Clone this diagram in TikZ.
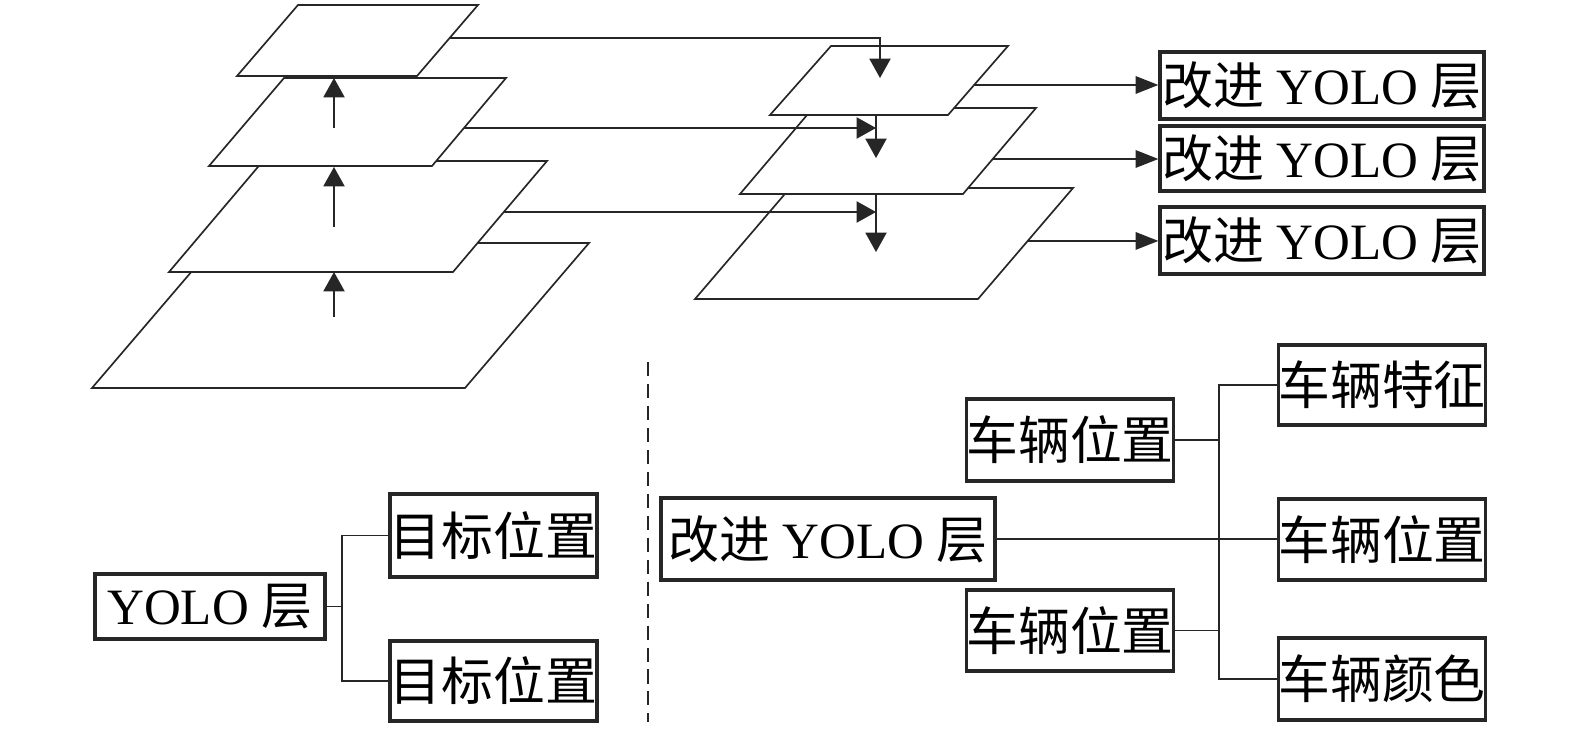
\documentclass[tikz,border=0pt]{standalone}
\usepackage{fontspec}
\setmainfont{Liberation Serif}
\newfontfamily\cjk{Noto Sans CJK SC}
\usetikzlibrary{arrows.meta,calc}
\begin{document}
\begin{tikzpicture}[x=0.02cm,y=-0.02cm,
  lay/.style={draw=black!85, line width=0.95pt, fill=white, line join=miter},
  box/.style={draw=black!85, line width=1.9pt, fill=white, inner sep=0pt, font=\fontsize{29}{31}\selectfont},
  cbox/.style={box, font=\fontsize{29.5}{31}\selectfont\cjk},
  conn/.style={draw=black!85, line width=0.95pt},
  uparr/.style={conn, -{Triangle[length=11pt,width=12pt]}},
  outarr/.style={conn, -{Triangle[length=13pt,width=10pt]}},
  dashline/.style={draw=black!85, line width=1.6pt, dash pattern=on 8pt off 4.5pt}]
\useasboundingbox (0,0) rectangle (1575,730);

% ---------- left stack ----------
\coordinate (P1tl) at (298,5);   \coordinate (P1tr) at (478,5);   \coordinate (P1br) at (417,76);  \coordinate (P1bl) at (237,76);
\coordinate (P2tl) at (284,78);  \coordinate (P2tr) at (506,78);  \coordinate (P2br) at (432,166); \coordinate (P2bl) at (209,166);
\coordinate (P3tl) at (263,161); \coordinate (P3tr) at (547,161); \coordinate (P3br) at (453,272); \coordinate (P3bl) at (169,272);
\coordinate (P4tl) at (216,243); \coordinate (P4tr) at (589,243); \coordinate (P4br) at (465,388); \coordinate (P4bl) at (92,388);
\draw[lay] (P4tl) -- (P4tr) -- (P4br) -- (P4bl) -- cycle;
\draw[lay] (P3tl) -- (P3tr) -- (P3br) -- (P3bl) -- cycle;
\draw[lay] (P2tl) -- (P2tr) -- (P2br) -- (P2bl) -- cycle;
\draw[lay] (P1tl) -- (P1tr) -- (P1br) -- (P1bl) -- cycle;

% up arrows
\coordinate (a1s) at (334,317); \coordinate (a1e) at (334,272);
\coordinate (a2s) at (334,227); \coordinate (a2e) at (334,167);
\coordinate (a3s) at (334,128); \coordinate (a3e) at (334,78);
\draw[uparr] (a1s) -- (a1e);
\draw[uparr] (a2s) -- (a2e);
\draw[uparr] (a3s) -- (a3e);

% ---------- right stack ----------
\coordinate (Q1tl) at (831,46);  \coordinate (Q1tr) at (1008,46); \coordinate (Q1br) at (948,115); \coordinate (Q1bl) at (770,115);
\coordinate (Q2tl) at (813,108); \coordinate (Q2tr) at (1036,108); \coordinate (Q2br) at (963,194); \coordinate (Q2bl) at (740,194);
\coordinate (Q3tl) at (790,188); \coordinate (Q3tr) at (1073,188); \coordinate (Q3br) at (978,299); \coordinate (Q3bl) at (695,299);
\draw[lay] (Q3tl) -- (Q3tr) -- (Q3br) -- (Q3bl) -- cycle;
\draw[lay] (Q2tl) -- (Q2tr) -- (Q2br) -- (Q2bl) -- cycle;
\draw[lay] (Q1tl) -- (Q1tr) -- (Q1br) -- (Q1bl) -- cycle;

% lateral connections
\coordinate (s1) at ($(P1tr)!0.465!(P1br)$);
\coordinate (s2) at ($(P2tr)!0.568!(P2br)$);
\coordinate (s3) at ($(P3tr)!0.459!(P3br)$);
\coordinate (d1) at (880,78);
\coordinate (t2) at (876,128);
\coordinate (t3) at (876,212);
\coordinate (v2s) at (876,115); \coordinate (v2e) at (876,158);
\coordinate (v3s) at (876,194); \coordinate (v3e) at (876,252);
\draw[uparr] (s1) -| (d1);
\draw[uparr] (s2) -- (t2);
\draw[uparr] (s3) -- (t3);
\draw[uparr] (v2s) -- (v2e);
\draw[uparr] (v3s) -- (v3e);

% output boxes
\node[box, minimum width=6.48cm, minimum height=1.34cm] (B1) at (1322,85.5) {{\cjk 改进} YOLO {\cjk 层}};
\node[box, minimum width=6.48cm, minimum height=1.30cm] (B2) at (1322,158.5) {{\cjk 改进} YOLO {\cjk 层}};
\node[box, minimum width=6.48cm, minimum height=1.34cm] (B3) at (1322,240.5) {{\cjk 改进} YOLO {\cjk 层}};
\coordinate (o1) at ($(Q1tr)!0.565!(Q1br)$);
\coordinate (o2) at ($(Q2tr)!0.593!(Q2br)$);
\coordinate (o3) at ($(Q3tr)!0.477!(Q3br)$);
\draw[outarr] (o1) -- (o1 -| B1.west);
\draw[outarr] (o2) -- (o2 -| B2.west);
\draw[outarr] (o3) -- (o3 -| B3.west);

% ---------- bottom left ----------
\node[box, minimum width=4.6cm, minimum height=1.3cm] (Y) at (210,606.5) {YOLO {\cjk 层}};
\node[cbox, minimum width=4.06cm, minimum height=1.66cm] (T1) at (493.5,535.5) {目标位置};
\node[cbox, minimum width=4.06cm, minimum height=1.6cm] (T2) at (493.5,681) {目标位置};
\coordinate (lb) at (342,0);
\draw[conn] (Y.east) -- (Y.east -| lb);
\draw[conn] (T1.west) -- (T1.west -| lb) -- (T2.west -| lb) -- (T2.west);

% dashed separator
\coordinate (da) at (648,362); \coordinate (db) at (648,722);
\draw[dashline] (da) -- (db);

% ---------- bottom right ----------
\node[box, minimum width=6.68cm, minimum height=1.64cm] (I) at (828,539) {{\cjk 改进} YOLO {\cjk 层}};
\node[cbox, minimum width=4.12cm, minimum height=1.64cm] (V1) at (1070,440) {车辆位置};
\node[cbox, minimum width=4.12cm, minimum height=1.62cm] (V2) at (1070,630.5) {车辆位置};
\node[cbox, minimum width=4.12cm, minimum height=1.6cm] (F1) at (1382,385) {车辆特征};
\node[cbox, minimum width=4.12cm, minimum height=1.62cm] (F2) at (1382,539.5) {车辆位置};
\node[cbox, minimum width=4.12cm, minimum height=1.64cm] (F3) at (1382,679) {车辆颜色};
\coordinate (rb) at (1219,0);
\draw[conn] (V1.east) -- (V1.east -| rb);
\draw[conn] (V2.east) -- (V2.east -| rb);
\draw[conn] (F1.west) -- (F1.west -| rb) -- (F3.west -| rb) -- (F3.west);
\draw[conn] (I.east) -- (I.east -| F2.west);
\end{tikzpicture}
\end{document}
